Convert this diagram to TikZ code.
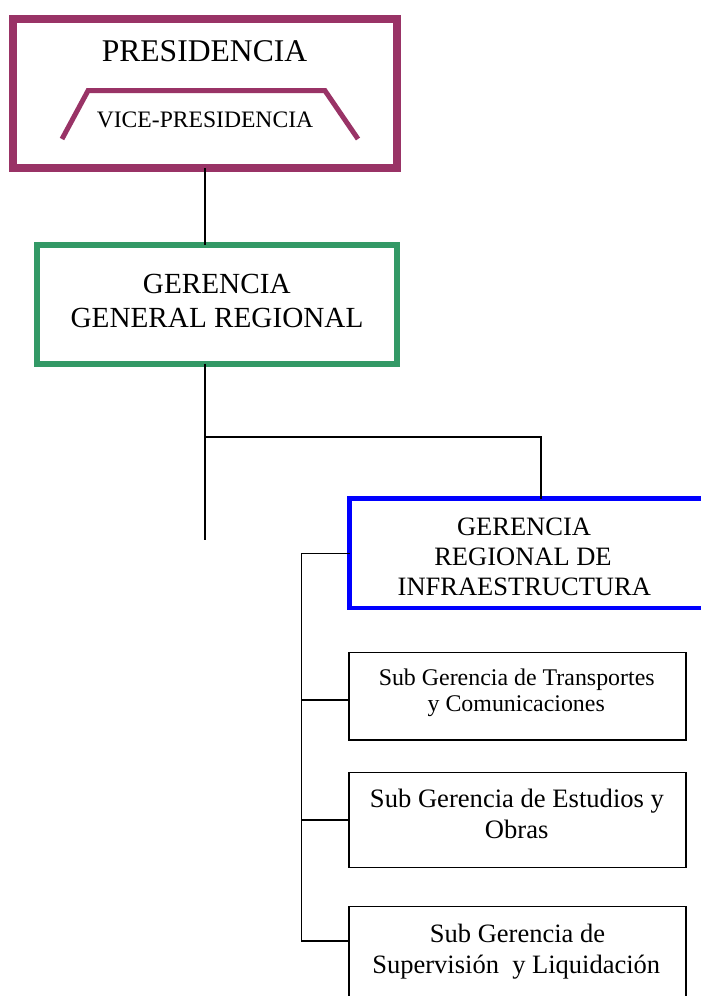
\documentclass[tikz,border=0pt]{standalone}
\usepackage{fontspec}
\setmainfont{Liberation Serif}
\definecolor{plum}{HTML}{993366}
\definecolor{seagreen}{HTML}{339966}
\definecolor{pureblue}{HTML}{0000FF}
\begin{document}
\begin{tikzpicture}[x=1pt,y=-1pt,
  box/.style={draw, rectangle, inner sep=0pt, outer sep=0pt, line join=miter},
  subbox/.style={box, line width=1.5pt, minimum width=337pt},
  conn/.style={draw=black, line width=1.6pt},
  lbl/.style={inner sep=0pt, outer sep=0pt, anchor=base}]
\useasboundingbox (0,0) rectangle (701,996);
\fill[white] (0,0) rectangle (701,996);
\begin{scope}
\clip (0,0) rectangle (701,996);
% boxes
\node[box, draw=plum, line width=8pt, minimum width=383.7pt, minimum height=149.3pt] (pres) at (205.15,93.35) {};
\draw[plum, line width=5pt, line join=miter] (62,139) -- (88,90.7) -- (325,90.7) -- (358,139);
\node[box, draw=seagreen, line width=6pt, minimum width=359.7pt, minimum height=119.2pt] (ger) at (217.15,304.1) {};
\node[box, draw=pureblue, line width=4.5pt, minimum width=383pt, minimum height=109.3pt] (inf) at (541,553.35) {};
\node[subbox, minimum height=87.7pt] (s1) at (517.5,696.15) {};
\node[subbox, minimum height=95.4pt] (s2) at (517.5,820) {};
\node[subbox, minimum height=120pt] (s3) at (517.5,966.7) {};
% texts
\node[lbl] (tpres) at (204.5,61) {\fontsize{31.6}{36}\selectfont PRESIDENCIA};
\node[lbl] (tvice) at (205,127) {\fontsize{23.6}{27}\selectfont VICE-PRESIDENCIA};
\node[lbl] (tger1) at (216.8,293) {\fontsize{29.2}{34}\selectfont GERENCIA};
\node[lbl] (tger2) at (217,327.3) {\fontsize{29.2}{34}\selectfont GENERAL REGIONAL};
\node[lbl] (tinf1) at (524,535) {\fontsize{26.5}{30}\selectfont GERENCIA};
\node[lbl] (tinf2) at (523,565) {\fontsize{26.5}{30}\selectfont REGIONAL DE\ };
\node[lbl] (tinf3) at (524.3,595) {\fontsize{26.5}{30}\selectfont INFRAESTRUCTURA};
\node[lbl] (ts1a) at (516.7,685) {\fontsize{23.9}{27}\selectfont Sub Gerencia de Transportes};
\node[lbl] (ts1b) at (516.2,711.7) {\fontsize{23.9}{27}\selectfont y Comunicaciones};
\node[lbl] (ts2a) at (517,807) {\fontsize{26.6}{30}\selectfont Sub Gerencia de Estudios y};
\node[lbl] (ts2b) at (516.7,838.7) {\fontsize{26.6}{30}\selectfont Obras};
\node[lbl] (ts3a) at (517.5,942.5) {\fontsize{26.5}{30}\selectfont Sub Gerencia de};
\node[lbl] (ts3b) at (516.3,973.5) {\fontsize{26.5}{30}\selectfont Supervisi\'on\ \ y Liquidaci\'on};
% connector coordinates
\coordinate (spine) at (205,0);
\coordinate (gend) at (205,540);
\coordinate (br) at (205,436.7);
\coordinate (bus) at (301.5,0);
\coordinate (c1) at (349,700);
\coordinate (c2) at (349,820);
\coordinate (c3) at (349,940.7);
% connectors
\draw[conn] (spine |- pres.south) -- (spine |- ger.north);
\draw[conn] (spine |- ger.south) -- (gend);
\draw[conn] (br) -| (inf.north);
\draw[conn] (inf.west) -| (bus |- c3) -- (c3);
\draw[conn] (bus |- c1) -- (c1);
\draw[conn] (bus |- c2) -- (c2);
\end{scope}
\end{tikzpicture}
\end{document}
